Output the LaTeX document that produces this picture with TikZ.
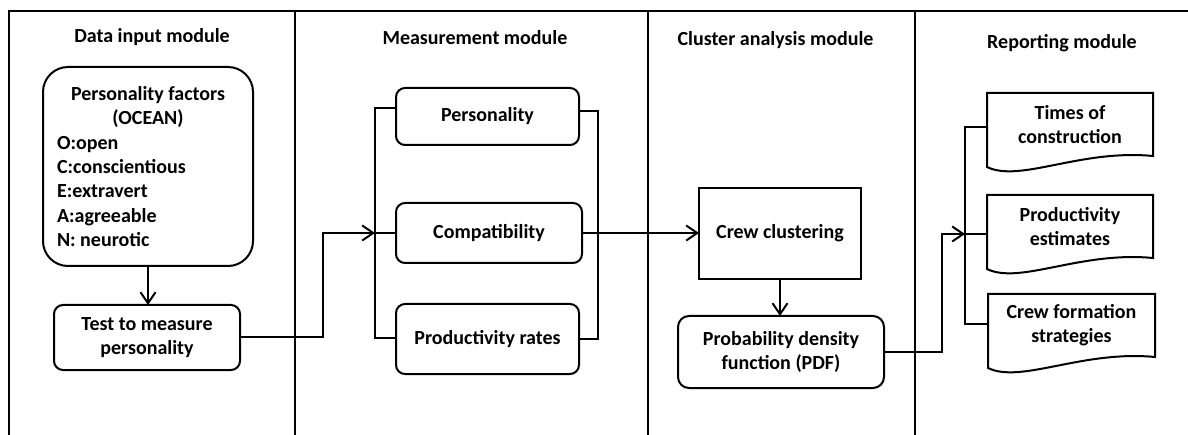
\documentclass[tikz,border=0pt]{standalone}
\usepackage{fontspec}
\setmainfont{Carlito}
\usetikzlibrary{arrows.meta,calc}
\begin{document}
\begin{tikzpicture}[x=1pt,y=-1pt,line width=2pt,
  every node/.style={font=\bfseries\fontsize{20}{24.3}\selectfont,inner sep=0pt,outer sep=0pt},
  header/.style={anchor=base},
  rbox/.style={draw,rounded corners=9pt,align=center},
  sbox/.style={draw,align=center},
  docbox/.style={align=center},
  arr/.style={-{Straight Barb[length=11pt,width=15pt]}}]
\useasboundingbox (0,0) rectangle (1188,435);
% frame
\draw (1188,11) -- (9,11) -- (9,435);
\draw (295,11) -- (295,435);
\draw (648,11) -- (648,435);
\draw (915,11) -- (915,435);
% headers
\node[header] (h1) at (152,42.5) {Data input module};
\node[header] (h2) at (475,45) {Measurement module};
\node[header] (h3) at (775.5,46) {Cluster analysis module};
\node[header] (h4) at (1062,49) {Reporting module};
% data input
\node[draw,rounded corners=25pt,minimum width=210pt,minimum height=199pt,text width=182pt,align=left] (pf) at (148,166.5)
  {\spaceskip=0pt\xspaceskip=0pt{\centering Personality factors\\(OCEAN)\par}O:open\\C:conscientious\\E:extravert\\A:agreeable\\N: neurotic};
\node[rbox,minimum width=186pt,minimum height=65pt] (test) at (147,337.5) {Test to measure\\personality};
\draw[arr] (pf.south) -- (pf.south |- test.north);
% measurement
\node[rbox,minimum width=183pt,minimum height=57pt] (p1) at (487.5,116.5) {Personality};
\node[rbox,minimum width=186pt,minimum height=60pt] (p2) at (489,233) {Compatibility};
\node[rbox,minimum width=183pt,minimum height=70pt] (p3) at (487.5,339) {Productivity rates};
\coordinate (mbl) at ($(p2.west)+(-21,0)$);
\draw ($(p1.west)+(0,-8.5)$) -- ++(-21,0) |- ($(p3.west)+(0,-1)$);
\draw (p2.west) -- (mbl);
\draw ($(p1.east)+(0,-5.5)$) -| ($(p3.east)+(19,0)$) -- (p3.east);
\draw[arr] (test.east) -- ++(83,0) |- (mbl);
% cluster analysis
\node[sbox,minimum width=162pt,minimum height=91pt] (crew) at (780,233.5) {Crew clustering};
\node[rbox,rounded corners=11pt,minimum width=206pt,minimum height=72pt] (pdf) at (781,352) {Probability density\\function (PDF)};
\draw[arr] (p2.east) -- (p2.east -| crew.west);
\draw[arr] (crew.south) -- (crew.south |- pdf.north);
% reporting
\node[docbox,minimum width=166pt,minimum height=63pt] (t1) at (1070,124.5) {Times of\\construction};
\node[docbox,minimum width=166pt,minimum height=63pt] (t2) at (1070,226.5) {Productivity\\estimates};
\node[docbox,minimum width=167pt,minimum height=63pt] (t3) at (1071.5,325.5) {Crew formation\\strategies};
\foreach \n in {t1,t2,t3}{
  \draw (\n.north west) -- (\n.north east) -- (\n.south east)
    .. controls ($(\n.south east)+(-73,-7)$) and ($(\n.south west)+(33,27)$) .. ($(\n.south west)+(0,11)$) -- cycle;
}
\coordinate (rbl) at ($(t2.west)+(-22,7.5)$);
\draw ($(t1.west)+(0,2.5)$) -- ++(-22,0) |- ($(t3.west)+(0,-1.5)$);
\draw ($(t2.west)+(0,7.5)$) -- (rbl);
\draw[arr] (pdf.east) -- ++(58,0) |- (rbl);
\end{tikzpicture}
\end{document}
